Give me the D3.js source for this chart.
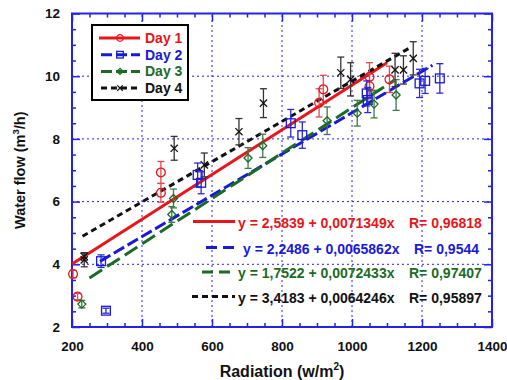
<!DOCTYPE html>
<html>
<head>
<meta charset="utf-8">
<script src="https://cdn.jsdelivr.net/npm/d3@7/dist/d3.min.js"></script>
<style>
  body { margin: 0; background: #fff; }
  svg text { font-family: 'Liberation Sans', Arial, sans-serif; font-weight: bold; }
</style>
</head>
<body>
<div id="chart"></div>
<script>
// data
const day1X = [203, 216, 454, 454, 906, 918, 1050, 1050, 1107];
const day1Y = [3.69, 2.97, 6.93, 6.28, 9.15, 9.58, 9.98, 9.68, 9.90];
const day1E = [0.12, 0.10, 0.35, 0.30, 0.45, 0.45, 0.45, 0.40, 0.42];

const day2X = [283, 297, 559, 569, 825, 858, 1042, 1045, 1193, 1209, 1251];
const day2Y = [4.10, 2.52, 6.85, 6.60, 8.50, 8.12, 9.45, 9.24, 9.77, 9.85, 9.93];
const day2E = [0.20, 0.08, 0.38, 0.35, 0.44, 0.42, 0.40, 0.40, 0.45, 0.40, 0.47];

const day3X = [228, 490, 485, 703, 745, 929, 1015, 1063, 1126];
const day3Y = [2.73, 6.10, 5.59, 7.39, 7.78, 8.58, 8.82, 9.11, 9.40];
const day3E = [0.12, 0.30, 0.25, 0.33, 0.37, 0.44, 0.41, 0.44, 0.49];

const day4X = [235, 235, 492, 578, 677, 747, 968, 996, 1123, 1147, 1175];
const day4Y = [4.14, 4.25, 7.70, 7.17, 8.23, 9.14, 10.11, 9.90, 10.20, 10.20, 10.57];
const day4E = [0.22, 0.12, 0.38, 0.38, 0.42, 0.46, 0.50, 0.53, 0.53, 0.45, 0.53];

// fit lines: intercept, slope, x range, R
const fitA = [2.5839, 2.2486, 1.7522, 3.4183];
const fitB = [0.0071349, 0.0065862, 0.0072433, 0.0064246];
const fitFrom = [200, 280, 250, 230];
const fitTo = [1100, 1230, 1120, 1170];
const fitLabel = ['y = 2,5839 + 0,0071349x', 'y = 2,2486 + 0,0065862x', 'y = 1,7522 + 0,0072433x', 'y = 3,4183 + 0,0064246x'];
const fitR = ['R= 0,96818', 'R= 0,9544', 'R= 0,97407', 'R= 0,95897'];

const names = ['Day 1', 'Day 2', 'Day 3', 'Day 4'];
const xTicks = [200, 400, 600, 800, 1000, 1200, 1400];
const yTicks = [2, 4, 6, 8, 10, 12];

const colors = ['#e8161b', '#1a1ad6', '#1b6b26', '#111111'];
const barColors = ['#e04a4e', '#2b2bd0', '#3d7a45', '#333333'];
const dashes = [null, '12,4', '15,6', '6,4'];
const symbols = ['circle', 'square', 'diamond', 'cross'];

const width = 507, height = 380;
const margin = { top: 13.5, right: 15, bottom: 53, left: 72 };

const svg = d3.select('#chart').append('svg')
    .attr('width', width)
    .attr('height', height);

const x = d3.scaleLinear().domain([200, 1400]).range([margin.left, width - margin.right]);
const y = d3.scaleLinear().domain([2, 12]).range([height - margin.bottom, margin.top]);

const axisBlue = '#2222ee';
const plotW = width - margin.left - margin.right;
const plotH = height - margin.top - margin.bottom;

// grid
const grid = svg.append('g').attr('class', 'grid');
grid.selectAll('.gx')
    .data(xTicks.slice(1, -1))
    .enter().append('line')
    .attr('x1', d => x(d)).attr('x2', d => x(d))
    .attr('y1', y(2)).attr('y2', y(12))
    .attr('stroke', axisBlue).attr('stroke-width', 1).attr('stroke-dasharray', '2,3');
grid.selectAll('.gy')
    .data(yTicks.slice(1, -1))
    .enter().append('line')
    .attr('x1', x(200)).attr('x2', x(1400))
    .attr('y1', d => y(d)).attr('y2', d => y(d))
    .attr('stroke', axisBlue).attr('stroke-width', 1).attr('stroke-dasharray', '2,3');

// axes: major + minor inward ticks on all four sides
const xMinor = d3.range(200, 1401, 50).filter(v => !xTicks.includes(v));
const yMinor = d3.range(2, 12.01, 0.5).filter(v => !yTicks.includes(v));

function styleAxis(g) {
    g.select('.domain').remove();
    g.selectAll('.tick line').attr('stroke', axisBlue).attr('stroke-width', 1.5);
    g.selectAll('.tick text').attr('fill', '#111').attr('font-size', '13.5px');
}

svg.append('g')
    .attr('transform', `translate(0,${y(2)})`)
    .call(d3.axisBottom(x).tickValues(xTicks).tickSizeInner(-8).tickSizeOuter(0).tickPadding(14).tickFormat(d3.format('d')))
    .call(styleAxis);
svg.append('g')
    .attr('transform', `translate(0,${y(2)})`)
    .call(d3.axisBottom(x).tickValues(xMinor).tickSize(-4).tickFormat(''))
    .call(styleAxis);
svg.append('g')
    .attr('transform', `translate(0,${y(12)})`)
    .call(d3.axisTop(x).tickValues(xTicks).tickSize(-8).tickFormat(''))
    .call(styleAxis);
svg.append('g')
    .attr('transform', `translate(0,${y(12)})`)
    .call(d3.axisTop(x).tickValues(xMinor).tickSize(-4).tickFormat(''))
    .call(styleAxis);

svg.append('g')
    .attr('transform', `translate(${x(200)},0)`)
    .call(d3.axisLeft(y).tickValues(yTicks).tickSizeInner(-8).tickSizeOuter(0).tickPadding(12))
    .call(styleAxis);
svg.append('g')
    .attr('transform', `translate(${x(200)},0)`)
    .call(d3.axisLeft(y).tickValues(yMinor).tickSize(-4).tickFormat(''))
    .call(styleAxis);
svg.append('g')
    .attr('transform', `translate(${x(1400)},0)`)
    .call(d3.axisRight(y).tickValues(yTicks).tickSize(-8).tickFormat(''))
    .call(styleAxis);
svg.append('g')
    .attr('transform', `translate(${x(1400)},0)`)
    .call(d3.axisRight(y).tickValues(yMinor).tickSize(-4).tickFormat(''))
    .call(styleAxis);

svg.append('rect')
    .attr('x', x(200)).attr('y', y(12))
    .attr('width', plotW).attr('height', plotH)
    .attr('fill', 'none')
    .attr('stroke', axisBlue)
    .attr('stroke-width', 2);

// axis titles
svg.append('text')
    .attr('x', x(800)).attr('y', 377)
    .attr('text-anchor', 'middle')
    .attr('font-size', '16px')
    .attr('fill', '#111')
    .html('Radiation (w/m<tspan dy="-7" font-size="10px">2</tspan><tspan dy="7">)</tspan>');

svg.append('text')
    .attr('transform', `translate(25,${y(7)}) rotate(-90)`)
    .attr('text-anchor', 'middle')
    .attr('font-size', '14.5px')
    .attr('fill', '#111')
    .html('Water flow (m<tspan dy="-6" font-size="9.5px">3</tspan><tspan dy="6">/h)</tspan>');

// regression lines
const fits = fitA.map((a, i) => ({ i, pts: [fitFrom[i], fitTo[i]].map(v => [v, a + fitB[i] * v]) }));
const line = d3.line().x(d => x(d[0])).y(d => y(d[1]));

svg.append('g').selectAll('path')
    .data(fits)
    .enter().append('path')
    .attr('d', d => line(d.pts))
    .attr('fill', 'none')
    .attr('stroke', d => colors[d.i])
    .attr('stroke-width', 3)
    .attr('stroke-dasharray', d => dashes[d.i]);

// points with error bars
const series = [
    [day1X, day1Y, day1E],
    [day2X, day2Y, day2E],
    [day3X, day3Y, day3E],
    [day4X, day4Y, day4E]
];

function drawMarker(g, kind, color, size) {
    if (kind === 'circle') {
        g.append('circle').attr('r', size * 0.55).attr('fill', 'none').attr('stroke', color).attr('stroke-width', 1.3);
    } else if (kind === 'square') {
        g.append('rect').attr('x', -size * 0.55).attr('y', -size * 0.55)
            .attr('width', size * 1.1).attr('height', size * 1.1)
            .attr('fill', 'none').attr('stroke', color).attr('stroke-width', 1.3);
    } else if (kind === 'diamond') {
        const s = size * 0.5;
        g.append('path').attr('d', `M0,${-s}L${s},0L0,${s}L${-s},0Z`)
            .attr('fill', 'none').attr('stroke', color).attr('stroke-width', 1.3);
    } else {
        const s = size * 0.45;
        g.append('path').attr('d', `M${-s},${-s}L${s},${s}M${-s},${s}L${s},${-s}`)
            .attr('stroke', color).attr('stroke-width', 1.3);
    }
}

series.forEach((s, k) => {
    const pts = s[0].map((v, j) => ({ x: v, y: s[1][j], e: s[2][j] }));
    const g = svg.append('g').attr('class', 'series-' + k);

    const bar = g.selectAll('.err')
        .data(pts)
        .enter().append('g')
        .attr('class', 'err')
        .attr('stroke', barColors[k])
        .attr('stroke-width', 1.3);
    bar.append('line')
        .attr('x1', d => x(d.x)).attr('x2', d => x(d.x))
        .attr('y1', d => y(d.y - d.e)).attr('y2', d => y(d.y + d.e));
    bar.append('line')
        .attr('x1', d => x(d.x) - 3.5).attr('x2', d => x(d.x) + 3.5)
        .attr('y1', d => y(d.y + d.e)).attr('y2', d => y(d.y + d.e));
    bar.append('line')
        .attr('x1', d => x(d.x) - 3.5).attr('x2', d => x(d.x) + 3.5)
        .attr('y1', d => y(d.y - d.e)).attr('y2', d => y(d.y - d.e));

    g.selectAll('.mark')
        .data(pts)
        .enter().append('g')
        .attr('class', 'mark')
        .attr('transform', d => `translate(${x(d.x)},${y(d.y)})`)
        .each(function () { drawMarker(d3.select(this), symbols[k], colors[k], 8); });
});

// legend
const legend = svg.append('g').attr('class', 'legend');
legend.append('rect')
    .attr('x', 92).attr('y', 25).attr('width', 96).attr('height', 75)
    .attr('fill', '#fff').attr('stroke', '#000').attr('stroke-width', 2);

const entry = legend.selectAll('.item')
    .data(names)
    .enter().append('g')
    .attr('class', 'item')
    .attr('transform', (d, i) => `translate(0,${38 + i * 16.7})`);

entry.append('line')
    .attr('x1', (d, i) => i === 0 ? 99 : 101).attr('x2', 140)
    .attr('stroke', (d, i) => colors[i])
    .attr('stroke-width', 3)
    .attr('stroke-dasharray', (d, i) => i === 0 ? null : (i === 3 ? '6,4' : '11,4'));
entry.each(function (d, i) {
    const m = d3.select(this).append('g').attr('transform', 'translate(120,0)');
    drawMarker(m, symbols[i], colors[i], 6);
});
entry.append('text')
    .attr('x', 145).attr('y', 0).attr('dy', '0.36em')
    .attr('font-size', '14px')
    .attr('fill', (d, i) => colors[i])
    .text(d => d);

// fit equations
const eq = svg.append('g').attr('class', 'equations');
const eqY = [222.5, 248.5, 273, 297.5];
const eqStart = [193, 206, 202, 192];
const eqText = [238, 243, 238, 238];
const eqR = [409, 414, 409, 409];

const eqItem = eq.selectAll('.eq')
    .data(fitLabel)
    .enter().append('g')
    .attr('class', 'eq')
    .attr('transform', (d, i) => `translate(0,${eqY[i]})`);
eqItem.append('line')
    .attr('x1', (d, i) => eqStart[i]).attr('x2', 235)
    .attr('y1', -1).attr('y2', -1)
    .attr('stroke', (d, i) => colors[i])
    .attr('stroke-width', 3)
    .attr('stroke-dasharray', (d, i) => i === 0 ? null : (i === 3 ? '6,4' : '11,6'));
eqItem.append('text')
    .attr('x', (d, i) => eqText[i]).attr('dy', '0.36em')
    .attr('font-size', '14px')
    .attr('fill', (d, i) => colors[i])
    .text(d => d);
eqItem.append('text')
    .attr('x', (d, i) => eqR[i]).attr('dy', '0.36em')
    .attr('font-size', '14px')
    .attr('fill', (d, i) => colors[i])
    .text((d, i) => fitR[i]);
</script>
</body>
</html>
